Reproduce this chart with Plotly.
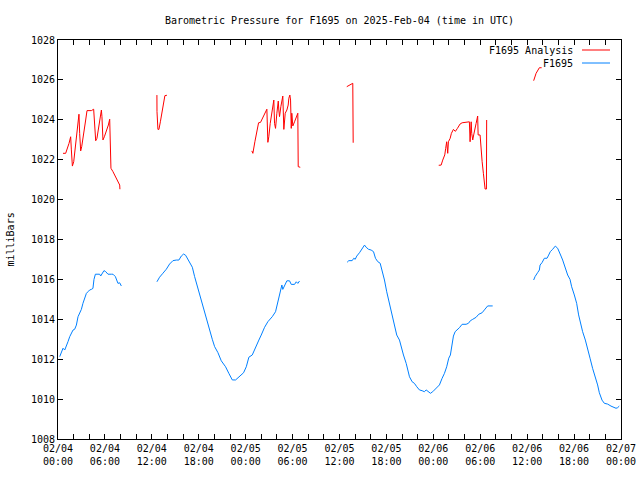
import pandas as pd
import plotly.graph_objects as go

# ---------------- data (hours since 2025-02-04 00:00 UTC, millibars) -------------
start_time = "2025-02-04 00:00"

analysis_hours = [
    [0.64, 0.98, 1.41, 1.62, 1.71, 1.84, 2.01, 2.13, 2.35, 2.43, 2.52, 2.61, 2.68, 2.77, 2.90, 3.03,
     3.19, 3.37, 3.54, 3.71, 4.27, 4.56, 4.69, 4.82, 4.98, 5.16, 5.33, 5.46, 5.55, 5.62, 5.67, 5.75,
     5.93, 6.19, 6.44, 6.61, 6.73, 6.77, 7.03, 7.46, 7.67, 7.89, 7.92],
    [12.65, 12.66, 12.78, 12.91, 13.09, 13.25, 13.42, 13.67, 13.93],
    [24.79, 24.92, 25.18, 25.43, 25.65, 25.90, 26.20, 26.50, 26.71, 26.84, 26.96, 27.14, 27.31, 27.48,
     27.60, 27.69, 27.82, 27.99, 28.17, 28.24, 28.33, 28.50, 28.68, 28.75, 28.88, 29.06, 29.27, 29.44,
     29.52, 29.65, 29.74, 29.83, 29.90, 30.03, 30.25, 30.47, 30.67, 30.72, 30.98],
    [36.93, 37.28, 37.70, 37.75],
    [48.69, 49.00, 49.20, 49.46, 49.58, 49.71, 49.84, 49.93, 50.15, 50.31, 50.57, 50.82, 51.08, 51.42,
     51.68, 52.19, 52.45, 52.61, 52.70, 52.84, 52.91, 53.04, 53.16, 53.29, 53.47, 53.67, 53.73, 53.98,
     54.11, 54.24, 54.40, 54.57, 54.62, 54.79, 54.82],
    [60.83, 61.14, 61.56, 61.85],
]
analysis_mbar = [
    [1022.32, 1022.32, 1022.82, 1023.15, 1022.49, 1021.68, 1021.90, 1022.32, 1023.15, 1023.49, 1023.65,
     1023.90, 1024.28, 1023.32, 1022.44, 1022.65, 1023.15, 1023.57, 1023.99, 1024.46, 1024.46, 1024.53,
     1023.74, 1022.95, 1023.07, 1023.49, 1023.90, 1024.33, 1024.49, 1024.16, 1023.90, 1022.99, 1023.15,
     1023.40, 1023.74, 1024.03, 1022.85, 1021.57, 1021.40, 1021.07, 1020.95, 1020.73, 1020.52],
    [1025.24, 1024.41, 1023.52, 1023.52, 1023.90, 1024.24, 1024.74, 1025.21, 1025.23],
    [1022.44, 1022.32, 1022.90, 1023.32, 1023.85, 1023.87, 1024.11, 1024.33, 1024.53, 1022.87, 1023.15,
     1023.82, 1024.33, 1024.79, 1024.99, 1023.82, 1023.57, 1024.33, 1024.94, 1024.49, 1024.16, 1024.66,
     1025.19, 1025.19, 1023.52, 1024.33, 1024.49, 1024.74, 1025.08, 1025.24, 1024.99, 1023.57, 1024.33,
     1023.69, 1023.90, 1024.11, 1024.33, 1021.65, 1021.62],
    [1025.66, 1025.73, 1025.83, 1022.85],
    [1021.72, 1021.73, 1021.98, 1022.24, 1022.57, 1022.90, 1022.32, 1022.90, 1023.07, 1023.32, 1023.52,
     1023.42, 1023.57, 1023.79, 1023.85, 1023.87, 1023.90, 1023.90, 1022.90, 1023.90, 1023.32, 1022.99,
     1023.24, 1023.57, 1023.82, 1024.19, 1023.24, 1023.24, 1022.40, 1021.90, 1021.32, 1020.73, 1020.53,
     1020.53, 1023.99],
    [1025.96, 1026.33, 1026.61, 1026.61],
]

station_hours = [
    [0.22, 0.43, 0.64, 0.86, 1.07, 1.28, 1.50, 1.71, 1.92, 2.13, 2.35, 2.56, 2.77, 2.99, 3.19, 3.41,
     3.63, 3.83, 4.05, 4.27, 4.47, 4.60, 4.78, 5.11, 5.33, 5.46, 5.67, 5.88, 6.10, 6.39, 6.82, 7.03,
     7.34, 7.46, 7.67, 7.89, 8.10],
    [12.65, 12.99, 13.42, 13.85, 14.27, 14.70, 15.13, 15.46, 15.77, 16.06, 16.32, 16.61, 16.92, 17.18,
     17.47, 17.76, 18.11, 18.45, 18.75, 19.04, 19.39, 19.73, 20.03, 20.45, 20.88, 21.43, 21.85, 22.29,
     22.71, 23.22, 23.73, 24.08, 24.41, 24.84, 25.27, 25.69, 25.99, 26.42, 26.84, 27.40, 27.82, 27.99,
     28.24, 28.42, 28.63, 28.75, 28.97, 29.27, 29.61, 29.83, 30.25, 30.47, 30.67, 30.89],
    [36.98, 37.19, 37.62, 37.83, 38.01, 38.21, 38.56, 38.90, 39.20, 39.41, 39.71, 40.05, 40.35, 40.60,
     40.89, 41.20, 41.46, 41.75, 42.04, 42.39, 42.73, 43.03, 43.32, 43.67, 43.88, 44.18, 44.53, 44.73,
     44.95, 45.29, 45.58, 45.88, 46.22, 46.57, 46.86, 47.08, 47.37, 47.63, 47.92, 48.36, 48.78, 49.12,
     49.42, 49.71, 49.97, 50.18, 50.40, 50.57, 50.79, 51.04, 51.34, 51.68, 52.19, 52.49, 52.74, 53.04,
     53.47, 53.80, 54.24, 54.53, 54.75, 54.95, 55.59],
    [60.83, 61.01, 61.34, 61.56, 61.65, 61.90, 62.20, 62.54, 62.75, 62.96, 63.26, 63.60, 63.90, 64.12,
     64.33, 64.54, 64.76, 65.05, 65.18, 65.48, 65.69, 66.03, 66.33, 66.58, 66.80, 67.09, 67.44, 67.73,
     68.04, 68.37, 68.72, 69.01, 69.23, 69.57, 69.87, 70.29, 70.72, 70.93, 71.36, 71.57, 71.78],
]
station_mbar = [
    [1012.13, 1012.30, 1012.55, 1012.46, 1012.63, 1012.88, 1013.13, 1013.33, 1013.46, 1013.50, 1013.71,
     1014.13, 1014.30, 1014.50, 1014.80, 1015.05, 1015.30, 1015.38, 1015.47, 1015.50, 1015.55, 1016.00,
     1016.26, 1016.26, 1016.26, 1016.17, 1016.34, 1016.44, 1016.39, 1016.26, 1016.26, 1016.26, 1016.14,
     1016.00, 1015.80, 1015.83, 1015.67],
    [1015.88, 1016.11, 1016.31, 1016.51, 1016.77, 1016.94, 1016.97, 1016.97, 1017.17, 1017.27, 1017.21,
     1017.01, 1016.84, 1016.61, 1016.14, 1015.72, 1015.33, 1014.80, 1014.38, 1013.96, 1013.46, 1013.00,
     1012.63, 1012.33, 1011.92, 1011.62, 1011.29, 1010.96, 1010.96, 1011.12, 1011.32, 1011.62, 1012.10,
     1012.21, 1012.55, 1012.96, 1013.21, 1013.60, 1013.88, 1014.13, 1014.38, 1014.67, 1015.05, 1015.30,
     1015.72, 1015.50, 1015.67, 1015.93, 1015.93, 1015.75, 1015.75, 1015.88, 1015.80, 1015.92],
    [1016.86, 1016.94, 1016.94, 1017.06, 1017.01, 1017.17, 1017.34, 1017.56, 1017.72, 1017.61, 1017.51,
     1017.47, 1017.39, 1017.06, 1016.89, 1016.81, 1016.47, 1015.97, 1015.38, 1014.80, 1014.13, 1013.71,
     1013.21, 1012.96, 1012.63, 1012.21, 1011.79, 1011.46, 1011.12, 1010.87, 1010.79, 1010.62, 1010.46,
     1010.42, 1010.37, 1010.46, 1010.37, 1010.29, 1010.37, 1010.54, 1010.71, 1011.04, 1011.29, 1011.62,
     1012.05, 1012.21, 1012.71, 1013.16, 1013.38, 1013.46, 1013.58, 1013.75, 1013.75, 1013.80, 1013.93,
     1014.00, 1014.10, 1014.25, 1014.33, 1014.47, 1014.55, 1014.67, 1014.67],
    [1015.97, 1016.14, 1016.34, 1016.47, 1016.72, 1016.84, 1017.06, 1017.06, 1017.22, 1017.39, 1017.51,
     1017.67, 1017.56, 1017.39, 1017.17, 1016.97, 1016.72, 1016.47, 1016.22, 1016.00, 1015.63, 1015.22,
     1014.80, 1014.22, 1013.80, 1013.38, 1012.96, 1012.46, 1012.05, 1011.54, 1011.12, 1010.71, 1010.32,
     1009.95, 1009.79, 1009.75, 1009.65, 1009.62, 1009.54, 1009.57, 1009.65],
]

tick_hours = [0, 6, 12, 18, 24, 30, 36, 42, 48, 54, 60, 66, 72]
tick_labels = ["02/04<br>00:00", "02/04<br>06:00", "02/04<br>12:00", "02/04<br>18:00",
               "02/05<br>00:00", "02/05<br>06:00", "02/05<br>12:00", "02/05<br>18:00",
               "02/06<br>00:00", "02/06<br>06:00", "02/06<br>12:00", "02/06<br>18:00",
               "02/07<br>00:00"]

title_text = "Barometric Pressure for F1695 on 2025-Feb-04 (time in UTC)"
y_label = "milliBars"
legend_names = ["F1695 Analysis", "F1695"]
colors = ["#ff0000", "#0080ff"]

# ---------------------------------------------------------------------------------
base = pd.Timestamp(start_time)


def join_segments(hours_segs, val_segs):
    xs, ys = [], []
    for hs, vs in zip(hours_segs, val_segs):
        if xs:
            xs.append(None)
            ys.append(None)
        xs.extend(base + pd.to_timedelta(h, unit="h") for h in hs)
        ys.extend(vs)
    return xs, ys


FONT = "DejaVu Sans Mono"
FIG_W, FIG_H = 640, 480
M_L, M_R, M_T, M_B = 58, 19, 40, 41

fig = go.Figure()
for (hs, vs), name, col in zip([(analysis_hours, analysis_mbar), (station_hours, station_mbar)],
                               legend_names, colors):
    x, y = join_segments(hs, vs)
    fig.add_trace(go.Scatter(x=x, y=y, mode="lines", name=name, showlegend=False,
                             line=dict(color=col, width=1), connectgaps=False))

tickvals = [base + pd.to_timedelta(h, unit="h") for h in tick_hours]

fig.update_layout(
    width=FIG_W, height=FIG_H,
    margin=dict(l=M_L, r=M_R, t=M_T, b=M_B, autoexpand=False),
    paper_bgcolor="white", plot_bgcolor="white",
    font=dict(family=FONT, size=10, color="black"),
    title=dict(text=title_text, xref="container", yref="container",
               x=(M_L + (FIG_W - M_L - M_R) / 2) / FIG_W, xanchor="center",
               y=1 - 20 / FIG_H, yanchor="middle",
               font=dict(family=FONT, size=10, color="black")),
    showlegend=False,
)
fig.update_xaxes(
    type="date", range=[tickvals[0], tickvals[-1]], automargin=False,
    tickmode="array", tickvals=tickvals, ticktext=tick_labels,
    ticks="inside", ticklen=5, tickcolor="black",
    minor=dict(dtick=2 * 3600 * 1000, ticks="inside", ticklen=5, tickcolor="black", showgrid=False),
    showline=True, linecolor="black", linewidth=1, mirror="allticks",
    showgrid=False, zeroline=False, tickfont=dict(family=FONT, size=10, color="black"),
)
fig.update_yaxes(
    range=[1008, 1028], dtick=2, tick0=1008, automargin=False,
    ticks="inside", ticklen=5, tickcolor="black",
    showline=True, linecolor="black", linewidth=1, mirror="allticks",
    showgrid=False, zeroline=False, tickfont=dict(family=FONT, size=10, color="black"),
)

plot_w = FIG_W - M_L - M_R
plot_h = FIG_H - M_T - M_B

# y-axis label (about 48 px left of the axis)
fig.add_annotation(text=y_label, xref="paper", yref="paper", x=-48 / plot_w, y=0.5,
                   textangle=-90, showarrow=False, xanchor="center", yanchor="middle",
                   font=dict(family=FONT, size=10, color="black"))

# gnuplot-style key: text on left, line sample on right
for i, (name, col) in enumerate(zip(legend_names, colors)):
    ypix = 10 + 13 * i              # px below top of plot area
    yp = 1 - ypix / plot_h
    fig.add_annotation(text=name, xref="paper", yref="paper", x=1 - 46 / plot_w, y=yp,
                       xanchor="right", yanchor="middle", showarrow=False,
                       font=dict(family=FONT, size=10, color="black"))
    fig.add_shape(type="line", xref="paper", yref="paper",
                  x0=1 - 39 / plot_w, x1=1 - 11 / plot_w, y0=yp, y1=yp,
                  line=dict(color=col, width=1))

# the page body carries a default 8px margin; remove it so the figure fills the window
fig.write_html("out.html", config={"displayModeBar": False},
               post_script="document.body.style.margin='0';")
